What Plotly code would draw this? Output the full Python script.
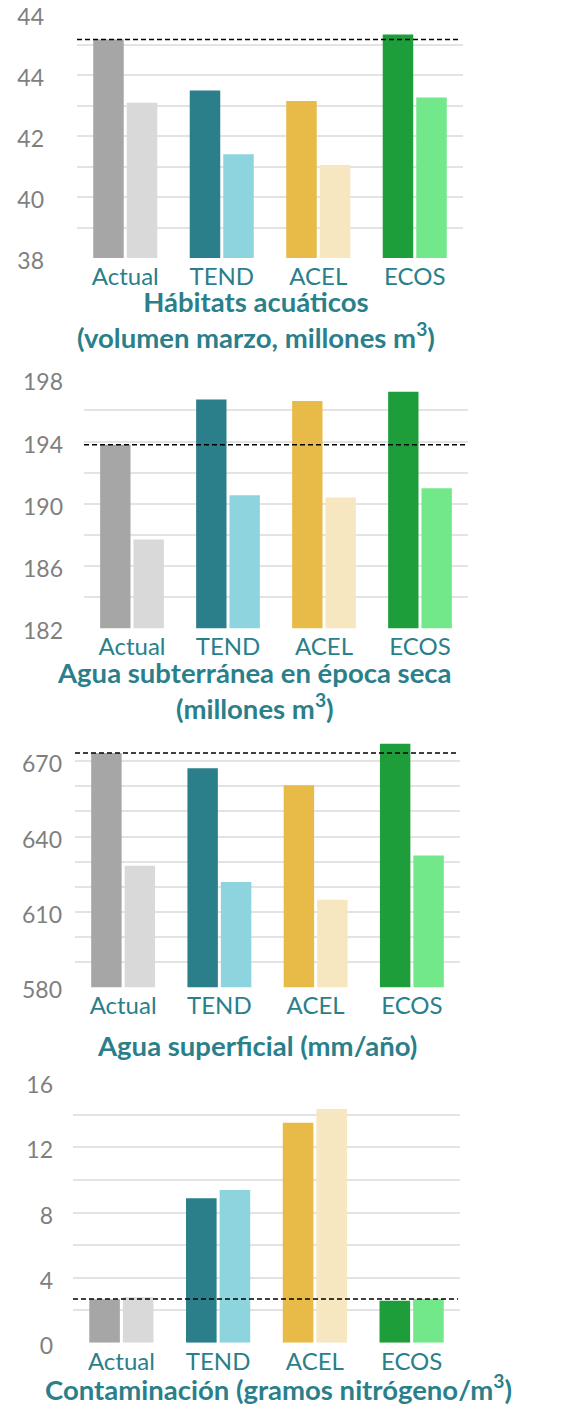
import plotly.graph_objects as go

categories = ["Actual", "TEND", "ACEL", "ECOS"]

# Chart 1: Hábitats acuáticos
hab_dark = [45.16, 43.49, 43.15, 45.33]
hab_light = [43.09, 41.40, 41.05, 43.26]
hab_ref = 45.16
hab_ticks = [38, 40, 42, 44, 46]
hab_ticktext = ["38", "40", "42", "44", "44"]

# Chart 2: Agua subterránea
sub_dark = [193.8, 196.7, 196.6, 197.2]
sub_light = [187.7, 190.55, 190.4, 191.0]
sub_ref = 193.8

# Chart 3: Agua superficial
sup_dark = [673.2, 667.2, 660.4, 676.9]
sup_light = [628.4, 621.9, 614.8, 632.4]
sup_ref = 673.2

# Chart 4: Contaminación
con_dark = [2.67, 8.87, 13.52, 2.58]
con_light = [2.79, 9.38, 14.36, 2.69]
con_ref = 2.69

dark_colors = ["#a6a6a6", "#2a7f8a", "#e8bb48", "#1e9e3a"]
light_colors = ["#d9d9d9", "#8dd4de", "#f6e7c1", "#73e88a"]

titles = [
    "Hábitats acuáticos<br>(volumen marzo, millones m<sup>3</sup>)",
    "Agua subterránea en época seca<br>(millones m<sup>3</sup>)",
    "Agua superficial (mm/año)",
    "Contaminación (gramos nitrógeno/m<sup>3</sup>)",
]

W, H = 567, 1405
teal = "#2a7f8a"
grid = "#e3e3e3"
tickgrey = "#7f7f7f"

# plot boxes in figure pixels (left, right, top, bottom)
boxes = [
    (69, 455, 6, 250),
    (76, 460, 371.3, 620.3),
    (67, 452, 728, 979.3),
    (65, 452, 1074.3, 1334.7),
]
title_pos = [(248, 311), (246, 682), (249, 1037), (270, 1379)]
standoffs = [32, 20, 12, 19]

datasets = [
    (hab_dark, hab_light, hab_ref),
    (sub_dark, sub_light, sub_ref),
    (sup_dark, sup_light, sup_ref),
    (con_dark, con_light, con_ref),
]

yaxis_cfg = [
    dict(range=[38, 46], tickmode="array", tickvals=hab_ticks, ticktext=hab_ticktext,
         minor=dict(tickmode="linear", tick0=38, dtick=1, showgrid=True,
                    gridcolor=grid, gridwidth=2)),
    dict(range=[182, 198], tick0=182, dtick=4,
         minor=dict(tick0=182, dtick=2, showgrid=True, gridcolor=grid, gridwidth=2)),
    dict(range=[580, 680], tick0=580, dtick=30,
         minor=dict(tick0=580, dtick=10, showgrid=True, gridcolor=grid, gridwidth=2)),
    dict(range=[0, 16], tick0=0, dtick=4,
         minor=dict(tick0=0, dtick=2, showgrid=True, gridcolor=grid, gridwidth=2)),
]

fig = go.Figure()
layout = dict(
    width=W, height=H, autosize=False,
    margin=dict(l=0, r=0, t=0, b=0, pad=0),
    paper_bgcolor="white", plot_bgcolor="white",
    font=dict(family="Lato", color=teal),
    showlegend=False,
    barmode="group", bargap=0.305, bargroupgap=0.09,
    annotations=[], shapes=[],
)

for i, (dark, light, ref) in enumerate(datasets):
    n = i + 1
    xa = "x" if n == 1 else f"x{n}"
    ya = "y" if n == 1 else f"y{n}"
    fig.add_trace(go.Bar(x=categories, y=dark, marker=dict(color=dark_colors, line=dict(width=0)),
                         xaxis=xa, yaxis=ya))
    fig.add_trace(go.Bar(x=categories, y=light, marker=dict(color=light_colors, line=dict(width=0)),
                         xaxis=xa, yaxis=ya))
    l, r, t, b = boxes[i]
    xkey = "xaxis" if n == 1 else f"xaxis{n}"
    ykey = "yaxis" if n == 1 else f"yaxis{n}"
    layout[xkey] = dict(
        domain=[l / W, r / W], anchor=ya, type="category", automargin=False,
        showgrid=False, showline=False, zeroline=False, ticks="",
        tickfont=dict(family="Lato", size=24, color=teal), ticklabelstandoff=2,
        ticklabeloverflow="allow",
    )
    ycfg = dict(
        domain=[1 - b / H, 1 - t / H], anchor=xa, automargin=False,
        showgrid=True, gridcolor=grid, gridwidth=2, zeroline=False, showline=False,
        ticks="", tickfont=dict(family="Lato", size=23, color=tickgrey),
        ticklabelstandoff=standoffs[i], ticklabeloverflow="allow", ticklabelshift=3,
    )
    ycfg.update(yaxis_cfg[i])
    layout[ykey] = ycfg
    layout["shapes"].append(dict(
        type="line", xref=f"{xa} domain", yref=ya, x0=0, x1=0.995, y0=ref, y1=ref,
        line=dict(color="black", width=1.5, dash="5px,3px"), layer="above",
    ))
    tx, ty = title_pos[i]
    layout["annotations"].append(dict(
        text=f"<b>{titles[i]}</b>", xref="paper", yref="paper",
        x=tx / W, y=1 - ty / H, xanchor="center", yanchor="middle", showarrow=False,
        font=dict(family="Lato", size=27.5, color=teal), align="center",
    ))

fig.update_layout(**layout)
fig.write_html("out.html")
